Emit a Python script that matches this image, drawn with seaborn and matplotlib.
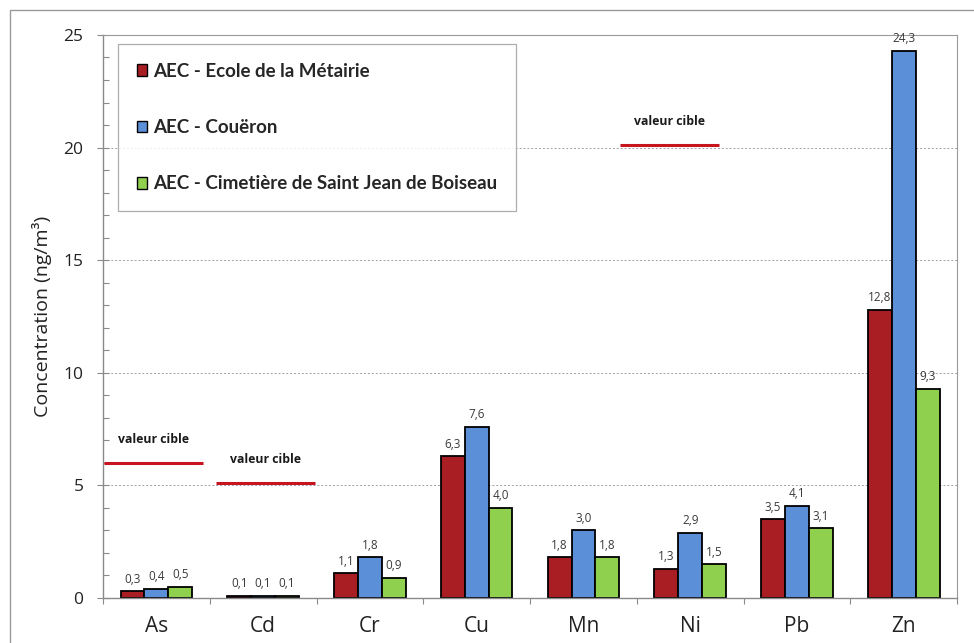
import matplotlib
matplotlib.use("Agg")
import matplotlib.pyplot as plt
import matplotlib.patches as mpatches
from matplotlib.ticker import MultipleLocator, FixedLocator
import seaborn as sns
import pandas as pd

# Metal concentrations (ng/m3) at three sampling sites
metals = ["As", "Cd", "Cr", "Cu", "Mn", "Ni", "Pb", "Zn"]
sites = ["AEC - Ecole de la Métairie",
         "AEC - Couëron",
         "AEC - Cimetière de Saint Jean de Boiseau"]
ecole = [0.3, 0.1, 1.1, 6.3, 1.8, 1.3, 3.5, 12.8]
coueron = [0.4, 0.1, 1.8, 7.6, 3.0, 2.9, 4.1, 24.3]
cimetiere = [0.5, 0.1, 0.9, 4.0, 1.8, 1.5, 3.1, 9.3]

# Regulatory target values
target_metals = ["As", "Cd", "Ni"]
target_values = [6.0, 5.1, 20.1]
target_label = "valeur cible"

colors = ["#A91E22", "#5B8FD8", "#8FD14F"]

rows = []
for site, vals in zip(sites, [ecole, coueron, cimetiere]):
    for m, v in zip(metals, vals):
        rows.append({"metal": m, "site": site, "value": v})
df = pd.DataFrame(rows)

sns.set_theme(style="white")
plt.rcParams["font.family"] = ["Open Sans", "DejaVu Sans"]

fig = plt.figure(figsize=(9.74, 6.43), dpi=100)
ax = fig.add_axes([0.1057, 0.070, 0.877, 0.8756])

sns.barplot(data=df, x="metal", y="value", hue="site", order=metals,
            hue_order=sites, palette=colors, width=0.67, gap=0,
            edgecolor="black", linewidth=1.3, saturation=1, errorbar=None,
            ax=ax)

for cont in ax.containers:
    ax.bar_label(cont, labels=[f"{b.get_height():.1f}".replace(".", ",")
                               for b in cont],
                 padding=4, fontsize=8.5, color="#3a3a3a")

ax.set_ylim(0, 25)
ax.set_xlim(-0.5, len(metals) - 0.5)
ax.yaxis.set_major_locator(MultipleLocator(5))
ax.yaxis.set_minor_locator(MultipleLocator(1))
ax.xaxis.set_minor_locator(FixedLocator([i - 0.5 for i in range(len(metals) + 1)]))

for y in [5, 10, 15, 20]:
    ax.axhline(y, color="#a0a0a0", lw=0.7, ls=(0, (2, 2)), zorder=0)

for side in ["left", "bottom"]:
    ax.spines[side].set_color("#8a8a8a")
    ax.spines[side].set_linewidth(1.0)
for side in ["top", "right"]:
    ax.spines[side].set_color("#9a9a9a")
    ax.spines[side].set_linewidth(0.8)

ax.tick_params(axis="y", which="minor", direction="in", length=4, width=0.8,
               color="#8a8a8a", left=True)
ax.tick_params(axis="y", which="major", direction="inout", length=8, width=0.8,
               color="#8a8a8a", left=True, labelsize=12.5,
               labelcolor="#222222", pad=10)
ax.tick_params(axis="x", which="major", length=0, labelsize=15,
               labelcolor="#222222", pad=13)
ax.tick_params(axis="x", which="minor", length=4, width=0.8, color="#8a8a8a",
               bottom=True)

ax.set_xlabel("")
ax.set_ylabel("Concentration (ng/m³)", fontsize=14, color="#222222",
              labelpad=8)

# Target value lines with their labels
spans = {"As": (-0.49, 0.44), "Cd": (0.56, 1.49), "Ni": (4.34, 5.27)}
for m, v in zip(target_metals, target_values):
    x0, x1 = spans[m]
    ax.plot([x0, x1], [v, v], color="#C8141E", lw=2.2, solid_capstyle="butt",
            zorder=4, clip_on=False)
    ax.text((x0 + x1) / 2, v + 0.75, target_label, ha="center", va="bottom",
            fontsize=8.8, fontweight="bold", color="#1a1a1a")

handles = [mpatches.Patch(facecolor=c, edgecolor="black", linewidth=1.0)
           for c in colors]
leg = ax.legend(handles, sites, loc="upper left",
                bbox_to_anchor=(0.018, 0.984), frameon=True, fancybox=False,
                handlelength=0.55, handleheight=0.55, handletextpad=0.3,
                labelspacing=2.1, borderpad=1.0, borderaxespad=0,
                prop={"family": ["Lato", "DejaVu Sans"], "weight": "bold",
                      "size": 13.5})
leg.get_frame().set_edgecolor("#9a9a9a")
leg.get_frame().set_linewidth(0.9)
leg.set_zorder(5)

# Outer chart frame
fig.patches.append(mpatches.Rectangle((10 / 974, -0.1), 1.1, 1.1 - 10 / 643,
                                      transform=fig.transFigure, fill=False,
                                      edgecolor="#9a9a9a", linewidth=1.0))

fig.savefig("out.png", dpi=100)
